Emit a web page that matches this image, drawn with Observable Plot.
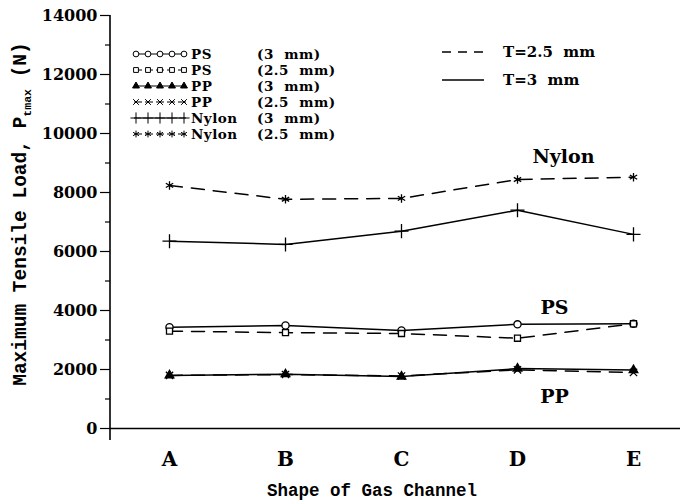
<!DOCTYPE html>
<html>
<head>
<meta charset="utf-8">
<script src="https://cdn.jsdelivr.net/npm/d3@7"></script>
<script src="https://cdn.jsdelivr.net/npm/@observablehq/plot@0.6"></script>
<style>
  html, body { margin: 0; padding: 0; background: #fff; }
  #chart { width: 680px; height: 504px; }
</style>
</head>
<body>
<div id="chart"></div>
<script>
// ---- data ----
const shapes = ["A", "B", "C", "D", "E"];
const ps3   = [3430, 3490, 3320, 3530, 3550];
const ps25  = [3300, 3250, 3220, 3060, 3550];
const pp3   = [1800, 1840, 1760, 2030, 1980];
const pp25  = [1800, 1830, 1780, 1990, 1900];
const ny3   = [6350, 6240, 6690, 7400, 6580];
const ny25  = [8240, 7770, 7800, 8440, 8520];
const yMajorTicks = [0, 2000, 4000, 6000, 8000, 10000, 12000, 14000];
const yMinorTicks = [1000, 3000, 5000, 7000, 9000, 11000, 13000];

const series = [
  {name: "PS",    t: "3  mm",   values: ps3,  symbol: "circle",   dashed: false},
  {name: "PS",    t: "2.5  mm", values: ps25, symbol: "square",   dashed: true},
  {name: "PP",    t: "3  mm",   values: pp3,  symbol: "triangle", dashed: false},
  {name: "PP",    t: "2.5  mm", values: pp25, symbol: "times",    dashed: true},
  {name: "Nylon", t: "3  mm",   values: ny3,  symbol: "plus",     dashed: false},
  {name: "Nylon", t: "2.5  mm", values: ny25, symbol: "asterisk", dashed: true}
];
const groupLabels = [
  {label: "Nylon", value: 9200, dx: 46},
  {label: "PS",    value: 4080, dx: 37},
  {label: "PP",    value: 1080, dx: 37}
];

const rows = series.flatMap(s => s.values.map((v, i) => ({
  key: s.name + " " + s.t, shape: shapes[i], value: v, dashed: s.dashed
})));

const DASH = "13,9";
const symFill = {circle: "white", square: "white", triangle: "black", times: "none", plus: "none", asterisk: "none"};
const symR = {circle: 3.6, square: 3.4, triangle: 3.2, times: 3.4, plus: 4.6, asterisk: 4.0};

const marks = [
  Plot.axisY({ticks: yMinorTicks, tickSize: 5, tickFormat: () => "", strokeWidth: 1.2}),
  Plot.axisY({ticks: yMajorTicks, tickSize: 10, tickPadding: 3, fontSize: 16,
              tickFormat: d3.format("d"), strokeWidth: 1.2}),
  Plot.axisX({tickSize: 0, tickPadding: 23, fontSize: 20}),
  Plot.ruleY([0], {strokeWidth: 1.6}),
  Plot.line(rows.filter(d => !d.dashed), {x: "shape", y: "value", z: "key", stroke: "black", strokeWidth: 1.5}),
  Plot.line(rows.filter(d => d.dashed), {x: "shape", y: "value", z: "key", stroke: "black", strokeWidth: 1.5, strokeDasharray: DASH}),
  ...series.map(s => Plot.dot(s.values.map((v, i) => ({shape: shapes[i], value: v})), {
    x: "shape", y: "value", symbol: s.symbol, r: symR[s.symbol],
    stroke: "black", strokeWidth: 1.3, fill: symFill[s.symbol]
  })),
  ...groupLabels.map(g => Plot.text([g], {x: () => "D", y: "value", text: "label", dx: g.dx, fontSize: 19, fill: "black"}))
];

const chart = Plot.plot({
  width: 680, height: 504,
  marginLeft: 110, marginRight: 0, marginTop: 15, marginBottom: 76,
  style: {fontFamily: "'DejaVu Serif', serif", fontWeight: "bold", background: "white", color: "black", overflow: "visible"},
  x: {type: "point", domain: shapes, range: [169, 633], padding: 0, label: null},
  y: {domain: [0, 14000], label: null},
  marks
});
document.getElementById("chart").appendChild(chart);

// ---- decorations: y axis line, titles, legends ----
const svg = d3.select(chart);
const ys = chart.scale("y");
const x0 = 110;
svg.append("line").attr("x1", x0).attr("x2", x0)
  .attr("y1", ys.apply(14000)).attr("y2", ys.apply(0) + 12)
  .attr("stroke", "black").attr("stroke-width", 1.6);

// axis titles
const mono = "'Liberation Mono', monospace";
svg.append("text")
  .attr("x", 372).attr("y", 496)
  .attr("text-anchor", "middle")
  .attr("font-family", mono).attr("font-weight", "bold").attr("font-size", 17.5)
  .text("Shape of Gas Channel");

const yt = svg.append("text")
  .attr("transform", "translate(26,214) rotate(-90)")
  .attr("text-anchor", "middle")
  .attr("font-family", mono).attr("font-weight", "bold").attr("font-size", 19.5)
  .attr("xml:space", "preserve").style("white-space", "pre");
yt.append("tspan").text("Maximum Tensile Load, P");
yt.append("tspan").attr("font-size", 11.5).attr("dy", 5).text("tmax");
yt.append("tspan").attr("dy", -5).text(" (N)");

// symbol legend
const symMap = {circle: d3.symbolCircle, square: d3.symbolSquare, triangle: d3.symbolTriangle,
                times: d3.symbolTimes, plus: d3.symbolPlus, asterisk: d3.symbolAsterisk};
const leg = svg.append("g").attr("font-size", 13.5).attr("font-weight", "bold")
  .attr("text-anchor", "start").attr("letter-spacing", 0.5)
  .attr("font-family", "'DejaVu Serif', serif");
series.forEach((s, i) => {
  const y = 54 + i * 16;
  const xs = d3.range(5).map(k => 136 + k * 12);
  leg.append("line").attr("x1", 134).attr("x2", 186).attr("y1", y).attr("y2", y)
    .attr("stroke", "black").attr("stroke-width", 1.1)
    .attr("stroke-dasharray", s.dashed ? "8,3" : null);
  xs.forEach(xx => {
    const r = symR[s.symbol] * 0.8;
    leg.append("path").attr("transform", `translate(${xx},${y})`)
      .attr("d", d3.symbol(symMap[s.symbol], Math.PI * r * r)())
      .attr("stroke", "black").attr("stroke-width", 1)
      .attr("fill", symFill[s.symbol]);
  });
  leg.append("text").attr("x", 191).attr("y", y).attr("dy", "0.36em").text(s.name);
  leg.append("text").attr("x", 257).attr("y", y).attr("dy", "0.36em")
    .attr("xml:space", "preserve").style("white-space", "pre").text("(" + s.t + ")");
});

// line-style legend
const leg2 = svg.append("g").attr("font-size", 15).attr("font-weight", "bold")
  .attr("text-anchor", "start")
  .attr("font-family", "'DejaVu Serif', serif");
[{label: "T=2.5  mm", dashed: true, y: 52}, {label: "T=3  mm", dashed: false, y: 80}].forEach(d => {
  leg2.append("line").attr("x1", 442).attr("x2", 484).attr("y1", d.y).attr("y2", d.y)
    .attr("stroke", "black").attr("stroke-width", 1.4)
    .attr("stroke-dasharray", d.dashed ? "9,7" : null);
  leg2.append("text").attr("x", 503).attr("y", d.y).attr("dy", "0.36em")
    .attr("xml:space", "preserve").style("white-space", "pre").text(d.label);
});
</script>
</body>
</html>
